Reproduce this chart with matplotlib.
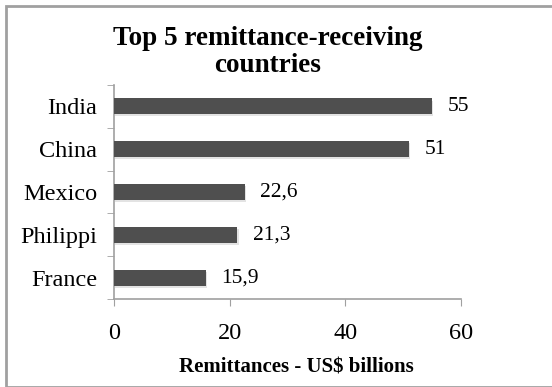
import matplotlib.pyplot as plt
import matplotlib.patheffects as pe
from matplotlib.patches import Rectangle

countries = ["India", "China", "Mexico", "Philippi", "France"]
remittances = [55, 51, 22.6, 21.3, 15.9]
value_labels = ["55", "51", "22,6", "21,3", "15,9"]
x_ticks = [0, 20, 40, 60]

plt.rcParams['font.family'] = ['Liberation Serif', 'DejaVu Serif']

W, H = 552, 387
fig = plt.figure(figsize=(W / 100, H / 100), dpi=100)

# chart frame (runs off the right and bottom edges)
fig.patches.append(Rectangle((6 / W, 0), 1.0, 1 - 6 / H, transform=fig.transFigure,
                             fill=False, edgecolor='#a0a0a0', linewidth=2))

ax = fig.add_axes([114 / W, 1 - 299 / H, 347 / W, 214 / H])

ypos = list(range(len(countries)))
bars = ax.barh(ypos, remittances, height=0.37, color='#4f4f4f', zorder=3)
for b in bars:
    b.set_path_effects([pe.SimplePatchShadow(offset=(1, -1.5), shadow_rgbFace='#c8c8c8', alpha=0.5),
                        pe.Normal()])

for y, v, lab in zip(ypos, remittances, value_labels):
    ax.text(v + 2.7, y, lab, va='center', ha='left', fontsize=15.5)

ax.set_xlim(0, 60)
ax.set_ylim(4.5, -0.5)
ax.set_xticks(x_ticks)
ax.set_xticklabels([str(t) for t in x_ticks], fontsize=17.5)
ax.set_yticks(ypos)
ax.set_yticklabels(countries, fontsize=17.5)
ax.tick_params(axis='y', length=0, pad=12)
ax.tick_params(axis='x', length=5, color='#a0a0a0', pad=12)
# category boundary ticks on the y axis
ax.set_yticks([i - 0.5 for i in range(len(countries) + 1)], minor=True)
ax.tick_params(axis='y', which='minor', length=5, color='#a0a0a0')

for s in ['top', 'right']:
    ax.spines[s].set_visible(False)
for s in ['left', 'bottom']:
    ax.spines[s].set_color('#a0a0a0')
    ax.spines[s].set_linewidth(1.2)

ax.set_xlabel('Remittances - US$ billions', fontsize=15, fontweight='bold')
ax.xaxis.set_label_coords(0.526, -0.275)

fig.text(268 / W, 1 - 52 / H, 'Top 5 remittance-receiving\ncountries', ha='center', va='center',
         fontsize=19.5, fontweight='bold', linespacing=1.15)

fig.savefig('out.png', dpi=100)
